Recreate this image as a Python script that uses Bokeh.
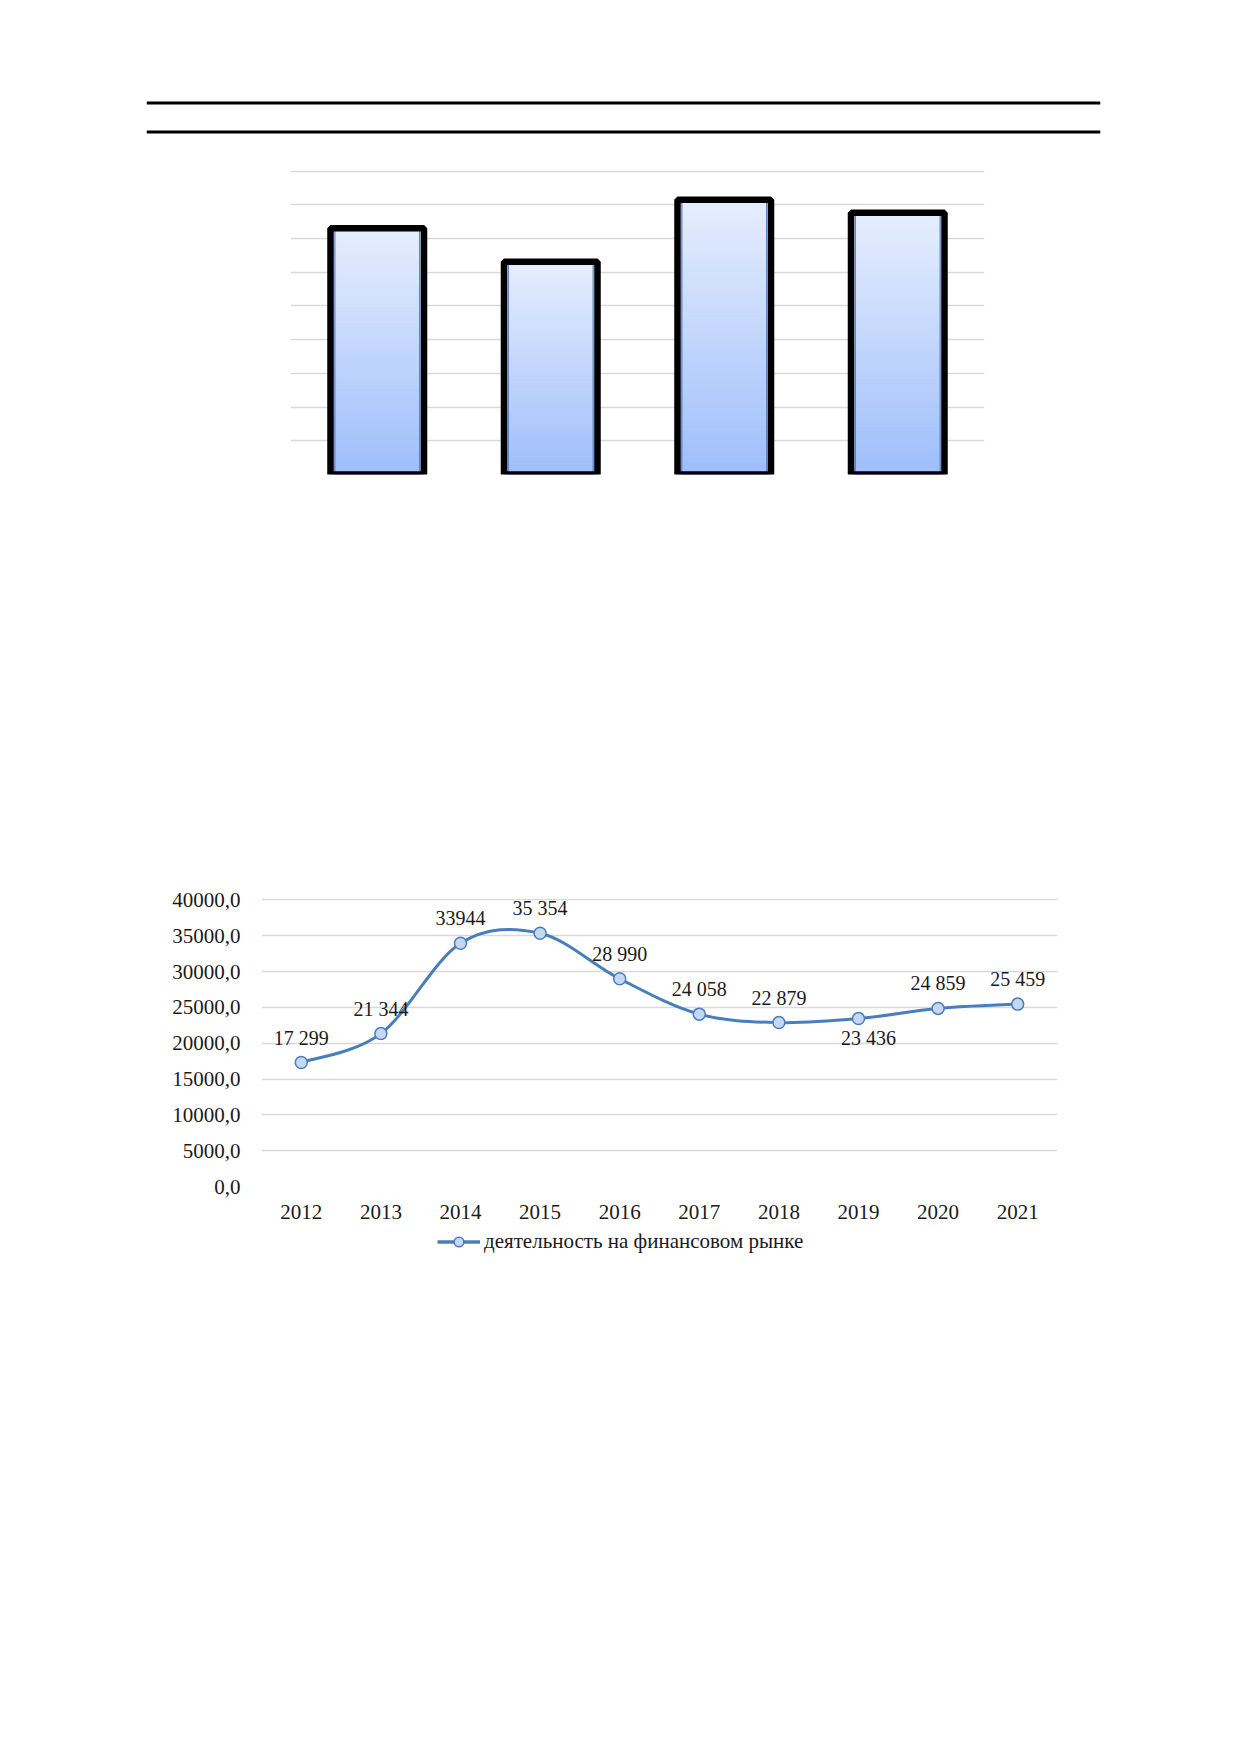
from bokeh.plotting import figure
from bokeh.layouts import column
from bokeh.models import Range1d, FixedTicker, Legend, LegendItem
from bokeh.embed import file_html
from bokeh.resources import INLINE
from bokeh.core.properties import value

# bar chart (no labels visible in the picture)
bar_labels = ["1", "2", "3", "4"]
bar_values = [7.31, 6.31, 8.15, 7.77]

# line chart
years = ["2012", "2013", "2014", "2015", "2016", "2017", "2018", "2019", "2020", "2021"]
fin_market = [17299, 21344, 33944, 35354, 28990, 24058, 22879, 23436, 24859, 25459]
point_labels = ["17 299", "21 344", "33944", "35 354", "28 990", "24 058", "22 879", "23 436", "24 859", "25 459"]
labels_below = ["2019"]
y_ticks = [0, 5000, 10000, 15000, 20000, 25000, 30000, 35000, 40000]
legend_label = "деятельность на финансовом рынке"

FONT = "Liberation Serif"
W = 1237
LC = "#4a7ebb"
MARK_FILL = "#c5d8f3"


def base(height, l, r, t, bt, **kw):
    f = figure(width=W, height=height, output_backend="svg", toolbar_location=None,
               frame_align=False, min_border_left=l, min_border_right=r,
               min_border_top=t, min_border_bottom=bt, **kw)
    f.outline_line_color = None
    return f


# --- header rules ---
h = base(150, 146, 137, 88, 4, x_range=Range1d(0, 1), y_range=Range1d(-0.5, 1.5),
         x_axis_location=None, y_axis_location=None)
h.grid.visible = False
h.segment(x0=[0, 0], y0=[0, 1], x1=[1, 1], y1=[0, 1], line_color="black", line_width=3)

# --- bar chart ---
b = base(360, 290, 253, 19, 36, x_range=bar_labels, y_range=Range1d(0, 9.05),
         x_axis_location=None, y_axis_location=None)
b.xgrid.visible = False
b.ygrid.ticker = FixedTicker(ticks=list(range(10)))
b.ygrid.grid_line_color = "#d9d9d9"
b.ygrid.grid_line_width = 1.5


def mix(c0, c1, t):
    a = [int(c0[i:i + 2], 16) for i in (1, 3, 5)]
    z = [int(c1[i:i + 2], 16) for i in (1, 3, 5)]
    return "#%02x%02x%02x" % tuple(round(a[k] + (z[k] - a[k]) * t) for k in range(3))


N = 60
xs, bots, tops, cols = [], [], [], []
for lab, v in zip(bar_labels, bar_values):
    for k in range(N):
        xs.append(lab)
        bots.append(v * k / N)
        tops.append(v * (k + 1) / N)
        cols.append(mix("#9ebefb", "#e6eefd", (k + 0.5) / N))
bw = 0.539
b.vbar(x=xs, bottom=bots, top=tops, width=bw, fill_color=cols, line_color=cols, line_width=1)
# outlines start below the frame so that only sides and top show
b.vbar(x=bar_labels, top=bar_values, bottom=-0.3, width=bw - 0.05, fill_color=None,
       line_color="#5a7fbf", line_width=1.2)
b.vbar(x=bar_labels, top=bar_values, bottom=-0.3, width=bw, fill_color=None,
       line_color="black", line_width=6.5)

# --- line chart ---
p = base(716, 261, 180, 388, 40, x_range=Range1d(-0.5, len(years) - 0.5),
         y_range=Range1d(0, 40200))
p.xgrid.visible = False
p.ygrid.ticker = FixedTicker(ticks=y_ticks)
p.ygrid.grid_line_color = "#d9d9d9"
p.ygrid.grid_line_width = 1.3

p.yaxis.ticker = FixedTicker(ticks=y_ticks)
p.yaxis.major_label_overrides = {t: ("%.1f" % t).replace(".", ",") for t in y_ticks}
p.xaxis.ticker = FixedTicker(ticks=list(range(len(years))))
p.xaxis.major_label_overrides = {i: y for i, y in enumerate(years)}
for ax in (p.xaxis, p.yaxis):
    ax.axis_line_color = None
    ax.major_tick_line_color = None
    ax.minor_tick_line_color = None
    ax.major_label_text_font = FONT
    ax.major_label_text_font_size = "21px"
    ax.major_label_text_color = "#1a1a1a"
p.yaxis.major_label_standoff = 15
p.xaxis.major_label_standoff = 12

# smoothed line as bezier segments (Excel-style)
n = len(fin_market)
idx = list(range(n))
x0, y0, x1, y1, cx0, cy0, cx1, cy1 = [], [], [], [], [], [], [], []
for i in range(n - 1):
    ip, inx = max(i - 1, 0), min(i + 2, n - 1)
    x0.append(idx[i]); y0.append(fin_market[i])
    x1.append(idx[i + 1]); y1.append(fin_market[i + 1])
    cx0.append(idx[i] + (idx[i + 1] - idx[ip]) / 6)
    cy0.append(fin_market[i] + (fin_market[i + 1] - fin_market[ip]) / 6)
    cx1.append(idx[i + 1] - (idx[inx] - idx[i]) / 6)
    cy1.append(fin_market[i + 1] - (fin_market[inx] - fin_market[i]) / 6)
p.bezier(x0=x0, y0=y0, x1=x1, y1=y1, cx0=cx0, cy0=cy0, cx1=cx1, cy1=cy1,
         line_color=LC, line_width=3)
p.scatter(idx, fin_market, marker="circle", size=12, fill_color=MARK_FILL,
          line_color=LC, line_width=1.5)

ab = [i for i in idx if years[i] not in labels_below]
be = [i for i in idx if years[i] in labels_below]
p.text(x=ab, y=[fin_market[i] for i in ab], text=[point_labels[i] for i in ab],
       y_offset=-25, text_align="center", text_baseline="middle",
       text_font=value(FONT), text_font_size="20px", text_color="#1a1a1a")
p.text(x=be, y=[fin_market[i] for i in be], text=[point_labels[i] for i in be],
       x_offset=10, y_offset=19, text_align="center", text_baseline="middle",
       text_font=value(FONT), text_font_size="20px", text_color="#1a1a1a")

# --- legend strip under the line chart (same series, shown off-range) ---
lg = base(40, 437, 400, 0, 10, x_range=Range1d(-0.5, len(years) - 0.5),
          y_range=Range1d(-2, -1), x_axis_location=None, y_axis_location=None)
lg.grid.visible = False
lr = lg.line(idx, fin_market, line_color=LC, line_width=3.5)
sr = lg.scatter(idx, fin_market, marker="circle", size=12, fill_color=MARK_FILL,
                line_color=LC, line_width=1.5)
legend = Legend(items=[LegendItem(label=legend_label, renderers=[lr, sr])],
                location="center_left", orientation="horizontal",
                margin=0, padding=0, border_line_color=None, background_fill_alpha=0,
                glyph_width=43, glyph_height=24, label_standoff=4,
                label_text_font=FONT, label_text_font_size="21px", label_text_color="#1a1a1a")
lg.add_layout(legend)

page = column(h, b, p, lg, spacing=0)
open("out.html", "w").write(file_html(page, INLINE))
